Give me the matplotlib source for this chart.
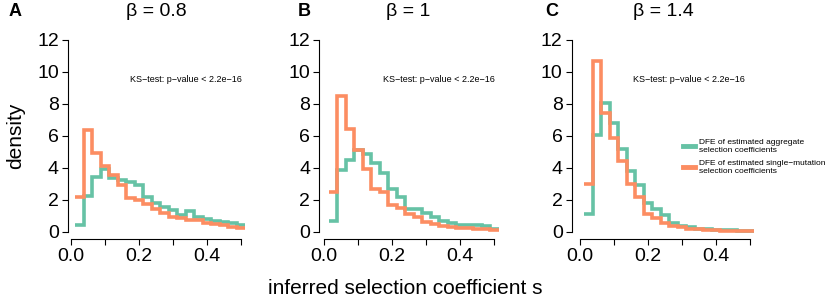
import matplotlib
matplotlib.use("Agg")
import matplotlib.pyplot as plt
from matplotlib.lines import Line2D

plt.rcParams['font.family'] = ['Liberation Sans', 'DejaVu Sans']

# histogram breaks (bin width 0.025)
breaks = [0.0125, 0.0375, 0.0625, 0.0875, 0.1125, 0.1375, 0.1625, 0.1875, 0.2125,
          0.2375, 0.2625, 0.2875, 0.3125, 0.3375, 0.3625, 0.3875, 0.4125, 0.4375,
          0.4625, 0.4875, 0.5125]

panels = ['A', 'B', 'C']
betas = ['0.8', '1', '1.4']

# DFE of estimated aggregate selection coefficients
agg_a = [0.4, 2.25, 3.4, 3.95, 3.35, 3.25, 3.1, 2.95, 2.2, 1.8,
         1.55, 1.35, 1.05, 1.3, 0.9, 0.8, 0.7, 0.6, 0.55, 0.4]
agg_b = [0.7, 3.85, 4.5, 5.1, 4.85, 4.27, 3.65, 2.65, 2.2, 1.45,
         1.45, 1.2, 0.9, 0.7, 0.55, 0.45, 0.4, 0.45, 0.35, 0.2]
agg_c = [1.1, 6.05, 8.05, 6.8, 5.2, 3.8, 2.9, 1.8, 1.45, 1.05,
         0.55, 0.35, 0.3, 0.2, 0.15, 0.12, 0.1, 0.08, 0.05, 0.05]

# DFE of estimated single-mutation selection coefficients
single_a = [2.15, 6.35, 4.95, 4.1, 3.55, 2.95, 2.1, 2.0, 1.75, 1.4,
            1.15, 0.95, 0.85, 0.75, 0.75, 0.55, 0.5, 0.4, 0.3, 0.25]
single_b = [2.5, 8.5, 6.4, 5.1, 3.95, 2.7, 2.5, 1.67, 1.46, 1.1,
            0.9, 0.63, 0.5, 0.38, 0.3, 0.25, 0.22, 0.2, 0.15, 0.1]
single_c = [3.0, 10.7, 7.45, 5.85, 4.4, 3.0, 2.2, 1.1, 0.85, 0.55,
            0.35, 0.3, 0.2, 0.15, 0.1, 0.1, 0.05, 0.05, 0.05, 0.05]

agg = [agg_a, agg_b, agg_c]
single = [single_a, single_b, single_c]

green = '#66C2A5'
orange = '#FC8D62'

W, H = 827, 307
fig = plt.figure(figsize=(W / 100, H / 100), dpi=100)

# axes left edge in pixels and x-limits left value
lefts = [68, 319.3, 571.7]
xmins = [-0.0088, -0.0147, -0.0245]
xmax = 0.5325
top_px, bot_px = 32.3, 239.4
ks_x = [130, 383, 633]

for i in range(3):
    width = (xmax - xmins[i]) * 340
    ax = fig.add_axes([lefts[i] / W, 1 - bot_px / H, width / W, (bot_px - top_px) / H])
    ax.stairs(agg[i], breaks, color=green, lw=2.6, baseline=None)
    ax.stairs(single[i], breaks, color=orange, lw=2.6, baseline=None)
    ax.set_xlim(xmins[i], xmax)
    ax.set_ylim(-0.48, 12.48)
    for s in ['top', 'right']:
        ax.spines[s].set_visible(False)
    ax.spines['left'].set_bounds(0, 12)
    ax.spines['bottom'].set_bounds(0, 0.5)
    ax.spines['left'].set_linewidth(0.8)
    ax.spines['bottom'].set_linewidth(0.8)
    ax.set_yticks([0, 2, 4, 6, 8, 10, 12])
    ax.set_xticks([0.0, 0.1, 0.2, 0.3, 0.4, 0.5])
    ax.set_xticklabels(['0.0', '', '0.2', '', '0.4', ''])
    ax.tick_params(labelsize=14, length=4.5, width=0.8, pad=2)
    fig.text(ks_x[i] / W, 1 - 80 / H, 'KS\u2212test: p\u2212value < 2.2e\u221216',
             fontsize=6.5, va='center')

handles = [Line2D([], [], color=green, lw=3.5), Line2D([], [], color=orange, lw=3.5)]
fig.legend(handles, ['DFE of estimated aggregate\nselection coefficients',
                     'DFE of estimated single\u2212mutation\nselection coefficients'],
           loc='upper left', bbox_to_anchor=(683 / W, 1 - 139 / H),
           frameon=False, fontsize=6.0, handlelength=1.4, handletextpad=0.5,
           labelspacing=0.7, borderpad=0, borderaxespad=0)

letters_x = [15, 304, 552]
titles_x = [156, 408, 663]
for i in range(3):
    fig.text(letters_x[i] / W, 1 - 12 / H, panels[i], fontsize=13, fontweight='bold',
             ha='center', va='center')
    fig.text(titles_x[i] / W, 1 - 12 / H, '\u03b2 = ' + betas[i], fontsize=14,
             ha='center', va='center')

fig.text(16 / W, 1 - 136 / H, 'density', fontsize=15, rotation=90, ha='center', va='center')
fig.text(405 / W, 1 - 289 / H, 'inferred selection coefficient s', fontsize=15,
         ha='center', va='center')

fig.savefig('out.png', dpi=100)
